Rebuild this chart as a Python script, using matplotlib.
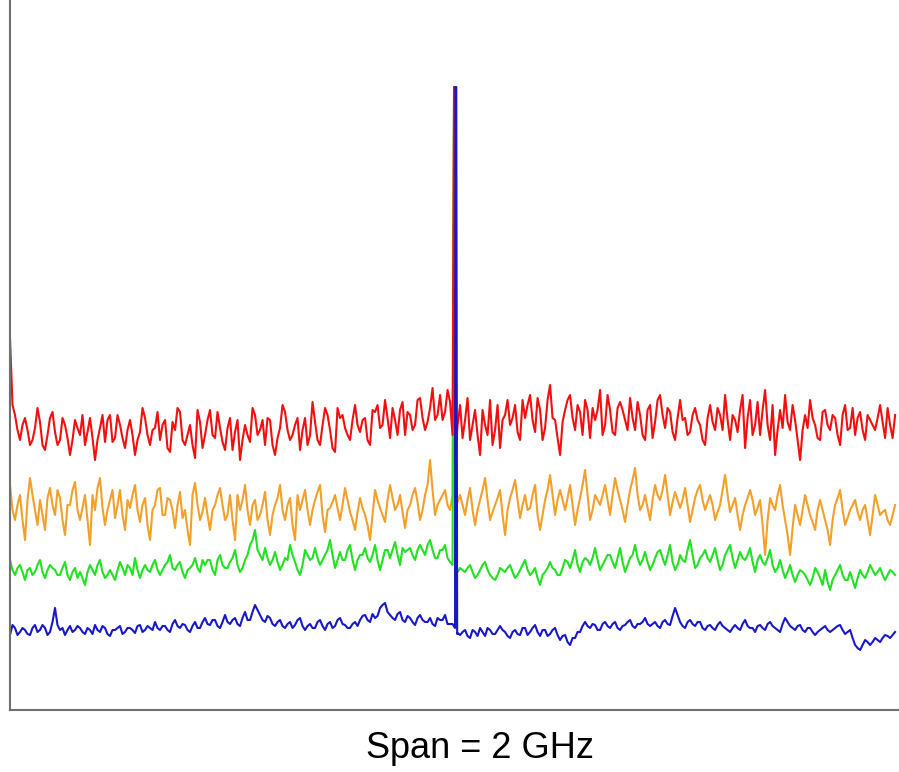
import numpy as np
import matplotlib.pyplot as plt

# spectrum traces, level in dB (0 dB = top of screen)
# main samples every 11.25 MHz, *_mid samples halfway between them
red = [-33.8, -41.5, -44.0, -41.8, -44.5, -42.8, -42.2, -45.0, -41.8, -43.2,
       -44.0, -42.5, -45.5, -42.0, -43.5, -44.5, -41.8, -46.0, -42.8, -44.2,
       -41.5, -43.8, -42.5, -44.8, -42.0, -45.5, -43.2, -41.8, -44.5, -42.8,
       -44.0, -42.0, -45.2, -43.0, -41.2, -44.5, -42.5, -45.8, -42.2, -43.5,
       -41.0, -43.8, -42.8, -45.0, -41.8, -43.2, -46.0, -42.5, -44.2, -41.5,
       -43.0, -44.5, -42.0, -45.5, -42.8, -41.2, -44.0, -42.5, -45.0, -41.8,
       -43.5, -42.2, -44.5, -40.8, -43.0, -45.2, -41.8, -42.8, -44.0, -40.5,
       -43.2, -41.8, -44.5, -41.2, -42.8, -40.0, -43.8, -42.0, -41.0, -43.5,
       -41.5, -42.5, -39.8, -43.0, -40.8, -42.0, -39.5, -41.2, -40.2, -46.5,
       -40.5, -42.0, -44.0, -41.0, -45.5, -42.5, -40.0, -43.0, -44.8, -41.5,
       -42.5, -40.5, -44.0, -41.8, -39.5, -43.2, -41.0, -42.8, -38.5, -42.0,
       -45.5, -41.0, -39.5, -43.0, -41.2, -40.0, -43.8, -42.0, -39.0, -42.5,
       -41.0, -43.5, -40.2, -42.0, -39.8, -43.0, -41.5, -44.0, -40.5, -42.2,
       -39.5, -42.8, -41.2, -44.0, -40.0, -41.8, -43.2, -40.8, -42.5, -44.5,
       -40.5, -43.0, -41.5, -39.5, -44.0, -42.0, -41.0, -44.8, -40.0, -42.5,
       -43.5, -39.0, -44.0, -45.5, -41.0, -39.5, -43.0, -42.0, -46.0, -41.5,
       -40.0, -42.5, -44.0, -41.0, -43.0, -41.8, -44.5, -40.5, -42.8, -43.5,
       -41.2, -44.0, -42.0, -43.0, -40.5, -43.8, -42.5, -41.5]
red_mid = [-40.5, -43.0, -42.5, -43.0, -44.0, -40.8, -44.5, -43.5, -41.2, -44.5,
           -41.8, -43.8, -44.0, -42.8, -41.5, -43.2, -43.8, -44.0, -41.5, -42.0,
           -44.2, -41.5, -43.8, -43.0, -43.5, -44.0, -40.8, -43.5, -43.0, -41.2,
           -42.5, -44.8, -42.2, -40.8, -44.0, -43.5, -44.5, -41.0, -44.8, -42.0,
           -43.5, -41.2, -44.2, -42.8, -45.0, -42.0, -44.0, -43.5, -40.8, -43.5,
           -42.0, -41.8, -44.5, -43.8, -40.5, -43.0, -43.5, -41.8, -43.0, -44.5,
           -40.2, -44.0, -42.5, -41.5, -44.8, -40.8, -41.5, -43.5, -42.0, -42.5,
           -42.0, -44.0, -41.0, -40.5, -42.5, -41.8, -40.8, -43.5, -40.2, -41.2,
           -43.0, -40.0, -41.8, -42.2, -38.8, -41.5, -42.0, -39.0, -43.5, -42.5,
           -43.8, -39.8, -42.5, -43.5, -41.0, -43.5, -44.5, -40.5, -42.0, -40.0,
           -41.8, -43.2, -40.0, -40.5, -42.0, -39.8, -44.0, -40.0, -41.8, -43.8,
           -42.2, -40.0, -41.8, -40.5, -43.5, -41.0, -40.8, -41.0, -43.5, -39.5,
           -43.2, -40.8, -41.0, -43.0, -41.8, -40.2, -43.5, -41.0, -43.8, -40.0,
           -41.5, -40.8, -43.2, -41.8, -42.0, -43.5, -41.5, -42.0, -44.0, -41.8,
           -42.2, -40.8, -43.0, -42.0, -41.5, -43.2, -39.5, -41.8, -43.5, -40.2,
           -41.0, -42.5, -40.5, -43.0, -42.8, -42.2, -40.5, -44.0, -43.0, -42.8,
           -41.8, -43.8, -41.2, -42.5, -41.5, -43.5, -41.5, -43.0, -40.8, -41.8,
           -43.0, -41.5, -42.5, -41.8, -42.2, -40.8, -43.8]

orange = [-48.5, -52.0, -49.5, -54.0, -47.8, -51.0, -50.0, -53.0, -48.8, -51.5,
          -49.8, -53.5, -50.5, -48.2, -52.0, -49.5, -54.5, -51.0, -47.8, -52.5,
          -50.0, -51.8, -49.0, -53.0, -50.8, -48.5, -52.2, -49.8, -54.0, -50.5,
          -48.8, -51.5, -50.0, -52.8, -49.2, -51.0, -54.5, -48.3, -52.0, -49.8,
          -53.0, -50.5, -48.8, -52.0, -49.5, -54.0, -51.0, -48.5, -52.5, -50.0,
          -51.5, -49.2, -53.5, -50.5, -48.5, -52.0, -49.8, -54.0, -51.0, -49.0,
          -52.5, -50.0, -48.5, -53.2, -50.8, -49.5, -52.0, -48.8, -51.2, -53.0,
          -49.8, -51.5, -54.0, -49.0, -50.8, -52.2, -48.5, -51.0, -49.5, -52.8,
          -50.5, -48.8, -52.0, -49.5, -46.0, -51.5, -50.0, -49.0, -51.0, -48.0,
          -49.5, -51.5, -48.8, -52.5, -50.0, -47.8, -52.0, -50.5, -49.0, -53.5,
          -49.8, -48.0, -51.8, -49.5, -50.8, -48.5, -53.0, -50.0, -47.5, -51.5,
          -49.0, -51.0, -48.5, -52.5, -49.8, -47.0, -52.0, -49.5, -50.5, -48.5,
          -51.5, -47.8, -50.0, -52.2, -49.0, -46.8, -51.0, -49.5, -52.0, -48.5,
          -50.0, -47.5, -51.5, -49.2, -50.8, -48.8, -52.2, -49.8, -48.5, -51.0,
          -49.5, -52.0, -50.5, -47.5, -51.2, -49.8, -53.0, -50.5, -49.0, -51.5,
          -50.0, -55.5, -49.8, -51.0, -48.5, -52.0, -55.5, -50.5, -52.5, -49.5,
          -51.5, -53.0, -50.0, -52.0, -54.5, -50.5, -49.0, -52.5, -51.0, -50.0,
          -52.0, -50.5, -53.5, -49.5, -51.5, -51.0, -52.5, -50.5]
orange_mid = [-51.0, -50.5, -52.0, -50.0, -49.5, -52.5, -51.5, -49.8, -50.5, -49.0,
              -52.0, -50.5, -49.0, -51.0, -50.8, -52.0, -49.5, -48.8, -50.8, -51.0,
              -49.0, -50.5, -51.5, -50.0, -49.5, -51.0, -50.5, -52.5, -51.0, -49.0,
              -51.5, -49.8, -51.0, -50.5, -51.8, -53.0, -49.5, -50.5, -51.2, -51.5,
              -51.0, -49.5, -50.5, -51.5, -52.0, -49.5, -50.0, -51.0, -50.5, -52.0,
              -50.5, -52.0, -51.5, -49.8, -51.0, -50.5, -52.5, -49.5, -50.0, -51.0,
              -51.0, -49.2, -51.5, -51.0, -50.2, -50.8, -50.5, -50.0, -52.0, -51.2,
              -50.8, -52.5, -51.5, -50.0, -51.5, -50.0, -49.8, -50.5, -51.2, -51.0,
              -49.5, -50.2, -51.0, -48.5, -49.0, -50.5, -49.5, -50.5, -49.5, -50.2,
              -50.5, -50.0, -51.0, -51.0, -49.0, -50.0, -51.2, -49.8, -51.5, -51.0,
              -49.0, -50.0, -50.5, -51.0, -49.5, -51.5, -51.5, -49.0, -49.5, -50.0,
              -50.0, -49.8, -50.5, -51.0, -48.5, -49.5, -51.0, -50.0, -49.5, -50.0,
              -49.5, -49.0, -51.0, -50.5, -48.0, -49.5, -50.5, -50.8, -50.0, -49.5,
              -49.0, -49.5, -50.2, -50.0, -50.0, -50.5, -51.0, -49.0, -50.0, -50.2,
              -50.5, -51.2, -49.0, -49.5, -50.5, -51.5, -51.5, -49.8, -50.0, -50.8,
              -52.5, -52.0, -50.5, -49.5, -50.5, -53.5, -52.8, -51.5, -51.0, -50.5,
              -52.2, -51.0, -51.0, -53.0, -52.0, -49.8, -51.0, -51.8, -50.5, -51.2,
              -51.0, -52.0, -51.5, -50.5, -51.2, -52.0, -51.5]

green = [-56.0, -57.5, -56.5, -58.0, -56.8, -57.2, -56.0, -57.8, -56.5, -57.0,
         -57.5, -56.2, -58.0, -56.8, -57.2, -58.5, -56.5, -57.5, -56.0, -57.8,
         -57.0, -58.0, -56.2, -57.5, -56.8, -55.8, -57.8, -56.5, -57.2, -56.0,
         -57.5, -56.5, -55.5, -57.0, -56.2, -57.8, -56.8, -55.8, -57.2, -56.5,
         -56.0, -57.5, -55.5, -56.8, -56.2, -55.0, -57.2, -56.0, -54.5, -53.0,
         -55.5, -54.8, -56.5, -55.2, -57.0, -55.8, -54.5, -56.2, -57.5, -55.0,
         -56.0, -54.8, -56.5, -55.5, -54.0, -56.8, -55.2, -56.0, -54.5, -57.0,
         -55.5, -54.8, -56.2, -54.5, -57.0, -55.0, -55.8, -54.2, -56.5, -55.2,
         -54.8, -56.0, -54.5, -55.5, -54.0, -55.8, -55.0, -54.5, -56.2, -57.5,
         -56.8, -57.2, -56.5, -57.8, -57.0, -56.2, -57.5, -58.0, -56.8, -57.2,
         -56.5, -57.8, -57.0, -56.0, -57.5, -56.8, -58.5, -57.2, -56.2, -57.0,
         -57.5, -56.0, -56.8, -55.0, -57.2, -55.8, -56.5, -54.8, -57.0, -56.0,
         -55.5, -56.8, -54.8, -57.2, -55.8, -54.5, -56.5, -55.2, -57.0, -55.8,
         -55.0, -56.5, -54.5, -57.0, -55.5, -56.2, -54.0, -56.8, -55.8, -55.0,
         -56.2, -54.8, -57.0, -55.5, -54.5, -56.8, -55.2, -56.0, -54.8, -57.2,
         -55.5, -56.5, -55.0, -57.2, -56.0, -57.8, -56.5, -58.2, -57.0, -57.5,
         -58.5, -56.8, -57.8, -57.0, -59.0, -57.5, -56.5, -58.0, -57.2, -58.8,
         -57.0, -57.8, -56.5, -57.5, -56.8, -58.0, -57.0, -57.5]
green_mid = [-57.0, -56.8, -57.2, -57.0, -57.5, -56.5, -57.2, -57.0, -56.8, -57.5,
             -56.8, -57.5, -57.2, -57.8, -57.8, -57.2, -57.0, -56.5, -57.2, -57.5,
             -57.5, -57.0, -56.8, -56.5, -57.5, -57.0, -57.0, -57.0, -56.5, -57.0,
             -57.0, -56.2, -56.8, -56.5, -57.2, -57.0, -56.5, -56.8, -56.0, -56.0,
             -57.0, -56.0, -56.5, -56.8, -55.8, -56.5, -56.8, -55.5, -54.0, -55.0,
             -56.0, -55.8, -56.0, -56.2, -56.5, -56.0, -55.5, -57.0, -56.5, -55.5,
             -55.8, -55.8, -56.0, -55.0, -55.5, -56.0, -56.0, -55.0, -56.0, -56.0,
             -55.5, -55.8, -55.5, -56.0, -56.0, -55.0, -55.0, -55.5, -54.8, -55.0,
             -55.5, -55.0, -55.0, -54.5, -55.0, -55.8, -55.0, -55.8, -56.5, -57.2,
             -57.0, -56.8, -57.2, -57.5, -56.5, -57.0, -57.8, -57.5, -57.0, -56.8,
             -57.2, -57.5, -56.5, -57.0, -57.2, -57.8, -57.5, -56.8, -56.8, -57.5,
             -56.8, -56.2, -56.0, -56.5, -56.2, -56.0, -55.8, -56.0, -56.5, -55.5,
             -56.2, -55.8, -56.2, -56.5, -55.5, -55.8, -56.0, -56.2, -56.5, -55.2,
             -55.8, -55.5, -56.2, -56.5, -56.0, -55.0, -55.5, -56.5, -55.5, -55.8,
             -55.5, -56.0, -56.5, -55.0, -55.8, -56.0, -55.8, -55.5, -56.2, -56.0,
             -56.2, -55.8, -56.5, -56.8, -57.0, -57.2, -57.5, -57.5, -57.2, -58.0,
             -57.8, -57.2, -58.5, -58.2, -58.0, -57.0, -57.5, -58.0, -58.0, -57.8,
             -57.5, -57.2, -57.0, -57.2, -57.5, -57.5, -57.2]

blue = [-63.5, -62.8, -63.2, -63.0, -63.5, -62.5, -63.0, -62.8, -63.2, -60.8,
        -63.0, -63.5, -62.6, -63.0, -62.8, -63.4, -63.0, -62.5, -63.2, -62.8,
        -63.6, -63.0, -62.6, -63.2, -62.8, -63.3, -62.5, -63.0, -62.8, -62.2,
        -63.0, -62.6, -63.2, -62.0, -62.8, -62.5, -63.2, -62.2, -62.8, -61.8,
        -62.5, -62.0, -62.8, -61.5, -62.4, -61.8, -62.6, -61.2, -62.0, -60.5,
        -61.5, -62.2, -61.8, -62.6, -62.0, -62.8, -62.2, -62.5, -61.8, -63.0,
        -62.4, -62.8, -62.0, -63.0, -62.2, -62.6, -61.8, -62.5, -62.8, -62.2,
        -62.0, -61.5, -62.2, -61.8, -60.8, -60.3, -61.5, -62.0, -61.2, -62.2,
        -61.8, -62.5, -61.5, -62.2, -61.8, -62.6, -62.0, -61.5, -62.4, -62.8,
        -63.5, -63.0, -63.8, -63.2, -62.8, -63.6, -63.0, -63.4, -62.6, -63.2,
        -63.8, -63.0, -63.5, -62.8, -63.2, -62.5, -63.6, -63.0, -63.4, -62.8,
        -64.0, -63.5, -64.5, -63.8, -63.2, -62.2, -62.8, -62.5, -63.0, -62.2,
        -62.8, -62.2, -63.0, -62.5, -62.0, -62.8, -62.4, -61.8, -62.6, -62.2,
        -62.8, -62.0, -62.5, -60.8, -62.2, -62.8, -62.0, -62.6, -62.2, -63.0,
        -62.5, -63.0, -62.2, -62.8, -63.2, -62.5, -63.0, -62.0, -62.8, -63.2,
        -62.5, -63.0, -62.2, -62.8, -63.2, -61.8, -62.6, -63.0, -62.5, -63.2,
        -62.8, -63.5, -63.0, -62.6, -63.2, -62.8, -62.5, -63.4, -63.0, -64.5,
        -65.0, -64.0, -64.5, -63.8, -64.2, -63.5, -63.8, -63.2]
blue_mid = [-62.5, -63.5, -62.8, -63.4, -62.8, -63.2, -62.5, -63.5, -62.2, -62.5,
            -62.8, -63.0, -63.2, -62.6, -63.2, -62.8, -63.4, -63.0, -62.6, -63.4,
            -63.0, -62.8, -63.4, -62.8, -63.0, -62.6, -63.2, -62.6, -63.0, -62.8,
            -62.6, -63.0, -62.4, -62.6, -62.4, -63.0, -62.6, -62.8, -62.2, -62.4,
            -62.0, -62.6, -62.2, -62.2, -62.0, -62.4, -61.8, -62.0, -61.2, -61.0,
            -62.0, -61.6, -62.4, -62.2, -62.6, -62.4, -62.8, -62.0, -62.6, -62.6,
            -62.8, -62.2, -62.6, -62.4, -62.8, -62.0, -62.4, -62.8, -62.4, -62.6,
            -61.6, -62.0, -61.4, -61.6, -60.5, -61.2, -61.8, -61.4, -62.0, -61.6,
            -62.2, -61.8, -62.0, -62.2, -62.4, -61.8, -62.0, -62.4, -62.4, -63.3,
            -63.2, -63.6, -63.0, -63.6, -63.2, -62.8, -63.4, -63.0, -63.0, -63.6,
            -63.2, -63.4, -62.8, -63.5, -62.8, -63.2, -63.0, -63.6, -63.0, -63.5,
            -63.6, -64.2, -63.8, -63.2, -62.6, -62.6, -62.4, -63.0, -62.4, -62.6,
            -62.4, -62.8, -62.6, -62.2, -62.6, -62.4, -62.2, -62.4, -62.4, -62.6,
            -62.2, -62.4, -61.6, -61.5, -62.6, -62.2, -62.4, -62.2, -62.8, -62.6,
            -62.8, -62.5, -62.6, -63.0, -62.8, -62.8, -62.4, -62.6, -62.8, -62.6,
            -62.8, -62.4, -62.6, -63.0, -62.4, -62.2, -62.8, -62.6, -63.0, -62.8,
            -63.2, -63.2, -62.8, -63.0, -63.0, -62.6, -63.0, -63.2, -63.8, -64.8,
            -64.5, -64.2, -64.2, -64.0, -63.8, -63.6, -63.5]

# carrier at the centre of the span, level -8.7 dB
red_peak_f = [999.0, 1001.0]
red_peak_lvl = [-8.7, -8.7]
orange_peak_f = [999.0, 1001.0]
orange_peak_lvl = [-8.7, -8.7]
green_peak_f = [999.0, 1001.0]
green_peak_lvl = [-8.7, -8.7]
blue_peak_f = [1002.0, 1004.0, 1006.0]
blue_peak_lvl = [-8.7, -8.7, -63.4]

span_mhz = 2000.0
step_mhz = 11.25


def build_trace(levels, mids, peak_f, peak_lvl):
    f = np.arange(len(levels)) * step_mhz
    f_mid = (np.arange(len(mids)) + 0.5) * step_mhz
    f_all = np.concatenate([f, f_mid, peak_f])
    l_all = np.concatenate([levels, mids, peak_lvl])
    order = np.argsort(f_all, kind="stable")
    return f_all[order], l_all[order]


fig = plt.figure(figsize=(8.99, 7.72), dpi=100)
ax = fig.add_axes([10 / 899, 62 / 772, 889 / 899, 710 / 772])

traces = [
    (orange, orange_mid, orange_peak_f, orange_peak_lvl, "#f2a02a"),
    (green, green_mid, green_peak_f, green_peak_lvl, "#22e022"),
    (red, red_mid, red_peak_f, red_peak_lvl, "#f01010"),
    (blue, blue_mid, blue_peak_f, blue_peak_lvl, "#1818c8"),
]
for levels, mids, pf, pl, color in traces:
    f, l = build_trace(levels, mids, pf, pl)
    ax.plot(f, l, color=color, lw=1.5)

ax.set_xlim(0, span_mhz)
ax.set_ylim(-71, 0)
ax.set_xticks([])
ax.set_yticks([])
for side in ["top", "right"]:
    ax.spines[side].set_visible(False)
for side in ["left", "bottom"]:
    ax.spines[side].set_color("#707070")
    ax.spines[side].set_linewidth(1.5)

fig.text(480 / 899, 1 - 749 / 772, "Span = 2 GHz", ha="center", va="center",
         fontsize=26, family=["Liberation Sans", "DejaVu Sans"])

fig.savefig("out.png", dpi=100)
